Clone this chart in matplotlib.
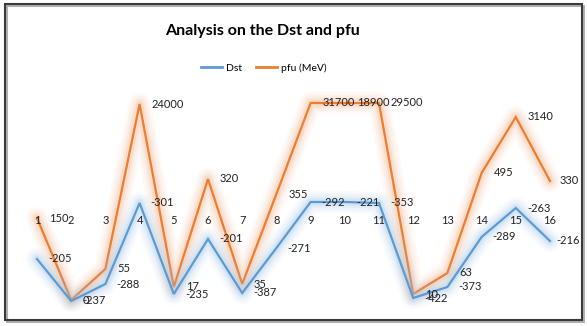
import matplotlib
matplotlib.use("Agg")
import matplotlib.pyplot as plt
import matplotlib.patheffects as pe
from matplotlib.patches import Rectangle
from matplotlib.lines import Line2D

# Data: category numbers, label values and the plotted level of each point
categories = list(range(1, 17))
dst_labels = [-205, -237, -288, -301, -235, -201, -387, -271,
              -292, -221, -353, -422, -373, -289, -263, -216]
pfu_labels = [150, 0, 55, 24000, 17, 320, 35, 355,
              31700, 18900, 29500, 10, 63, 495, 3140, 330]
# plotted levels (chart's own hidden scale)
dst_level = [51, 9, 26, 107, 16, 71, 17, 62, 108, 108, 107, 12, 23, 73, 102, 69]
pfu_level = [92, 10, 41, 206, 23, 131, 26, 116, 207, 207, 207, 16, 37, 137, 193, 129]
axis_level = 90

BLUE = "#5B9BD5"
ORANGE = "#ED7D31"
plt.rcParams["font.family"] = ["Lato", "DejaVu Sans"]

fig = plt.figure(figsize=(5.87, 3.26), dpi=100)
fig.patch.set_facecolor("white")

# outer frame with small shadow
fig.add_artist(Rectangle((7 / 587, 1 - 322 / 326), 577 / 587, 316 / 326,
                         transform=fig.transFigure, fill=False,
                         edgecolor="#b0b0b0", linewidth=1.5))
fig.add_artist(Rectangle((5 / 587, 1 - 320 / 326), 577 / 587, 316 / 326,
                         transform=fig.transFigure, fill=False,
                         edgecolor="#3a3a3a", linewidth=1.5))

ax = fig.add_axes([37 / 587, 16 / 326, 513 / 587, 220 / 326])
ax.set_xlim(1, 16)
ax.set_ylim(0, 220)
ax.axis("off")


def glow(color):
    kw = dict(foreground=color, joinstyle="round", capstyle="round")
    return [pe.Stroke(linewidth=16, alpha=0.07, **kw),
            pe.Stroke(linewidth=12, alpha=0.10, **kw),
            pe.Stroke(linewidth=8, alpha=0.14, **kw),
            pe.Stroke(linewidth=5, alpha=0.2, **kw),
            pe.Normal()]


ax.plot(categories, pfu_level, color=ORANGE, linewidth=1.6, clip_on=False,
        path_effects=glow("#F4B183"), solid_joinstyle="miter")
ax.plot(categories, dst_level, color=BLUE, linewidth=1.6, clip_on=False,
        path_effects=glow("#9DC3E6"), solid_joinstyle="miter")

# category labels sitting in the middle of the plot
for c in categories:
    ax.text(c, axis_level, str(c), ha="center", va="center", fontsize=8,
            color="#222222")

# data labels to the right of each point (last one pulled in to stay inside)
for c, lv, lab in zip(categories, pfu_level, pfu_labels):
    dx = 7 if c == categories[-1] else 8.5
    ax.annotate(str(lab), (c, lv), xytext=(dx, 0), textcoords="offset points",
                ha="left", va="center", fontsize=8, color="#222222",
                annotation_clip=False)
for c, lv, lab in zip(categories, dst_level, dst_labels):
    dx = 4.5 if c == categories[-1] else 8
    ax.annotate(str(lab), (c, lv), xytext=(dx, 0), textcoords="offset points",
                ha="left", va="center", fontsize=8, color="#222222",
                annotation_clip=False)

fig.text(262 / 587, 1 - 31 / 326, "Analysis on the Dst and pfu", ha="center",
         va="center", fontsize=11.5, fontweight="bold", color="black")

handles = [Line2D([], [], color=BLUE, linewidth=2),
           Line2D([], [], color=ORANGE, linewidth=2)]
fig.legend(handles, ["Dst", "pfu (MeV)"], loc="center",
           bbox_to_anchor=(264 / 587, 1 - 68 / 326), ncol=2, frameon=False,
           fontsize=7.5, handlelength=2.0, handletextpad=0.4, columnspacing=1.3)

fig.savefig("out.png", dpi=100)
